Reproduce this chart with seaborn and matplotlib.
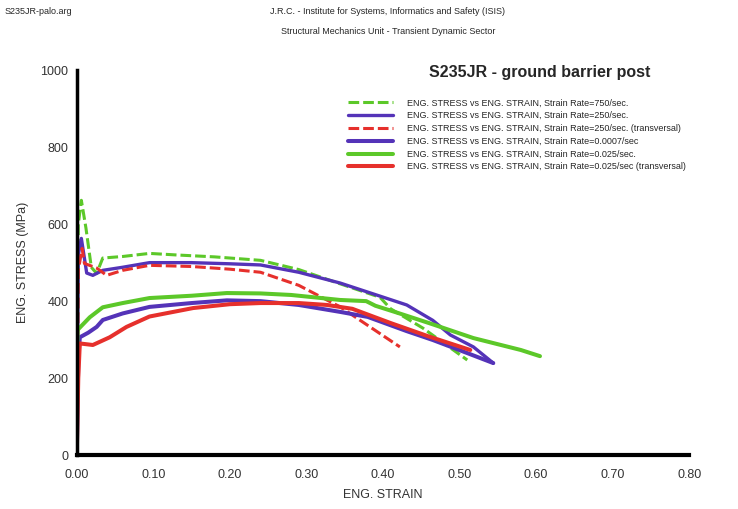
import numpy as np
import pandas as pd
import seaborn as sns
import matplotlib.pyplot as plt
from matplotlib.ticker import MultipleLocator, FormatStrFormatter

# series
strain_750 = [0, 0.002, 0.006, 0.012, 0.019, 0.026, 0.034, 0.06, 0.095, 0.13, 0.18, 0.24, 0.29, 0.344, 0.396, 0.41, 0.452, 0.48, 0.51]
stress_750 = [0, 600, 662, 590, 488, 472, 512, 516, 524, 520, 515, 506, 482, 445, 410, 380, 330, 290, 247]

strain_250 = [0, 0.002, 0.006, 0.013, 0.021, 0.034, 0.06, 0.095, 0.15, 0.2, 0.24, 0.29, 0.344, 0.396, 0.431, 0.465, 0.488, 0.518, 0.544]
stress_250 = [0, 520, 563, 473, 467, 480, 488, 500, 500, 497, 494, 475, 447, 413, 390, 350, 312, 281, 239]

strain_250t = [0, 0.002, 0.007, 0.01, 0.018, 0.026, 0.039, 0.06, 0.095, 0.15, 0.2, 0.24, 0.29, 0.344, 0.38, 0.422]
stress_250t = [0, 480, 537, 498, 492, 486, 467, 480, 493, 490, 483, 475, 441, 385, 337, 281]

strain_0007 = [0, 0.002, 0.004, 0.015, 0.026, 0.034, 0.06, 0.095, 0.15, 0.196, 0.24, 0.29, 0.344, 0.38, 0.431, 0.465, 0.51, 0.544]
stress_0007 = [0, 250, 306, 318, 333, 351, 368, 385, 395, 402, 400, 390, 372, 359, 322, 299, 265, 239]

strain_0025 = [0, 0.001, 0.017, 0.034, 0.06, 0.095, 0.15, 0.196, 0.24, 0.28, 0.344, 0.378, 0.39, 0.42, 0.46, 0.518, 0.58, 0.605]
stress_0025 = [0, 325, 358, 384, 395, 408, 414, 421, 420, 416, 403, 400, 388, 369, 343, 304, 273, 257]

strain_0025t = [0, 0.002, 0.004, 0.021, 0.043, 0.065, 0.095, 0.152, 0.2, 0.24, 0.29, 0.327, 0.36, 0.41, 0.46, 0.514]
stress_0025t = [0, 200, 290, 286, 306, 333, 360, 382, 392, 395, 395, 390, 380, 343, 308, 273]

labels = ["ENG. STRESS vs ENG. STRAIN, Strain Rate=750/sec.",
          "ENG. STRESS vs ENG. STRAIN, Strain Rate=250/sec.",
          "ENG. STRESS vs ENG. STRAIN, Strain Rate=250/sec. (transversal)",
          "ENG. STRESS vs ENG. STRAIN, Strain Rate=0.0007/sec",
          "ENG. STRESS vs ENG. STRAIN, Strain Rate=0.025/sec.",
          "ENG. STRESS vs ENG. STRAIN, Strain Rate=0.025/sec (transversal)"]

green = "#5cc829"
blue = "#5433b8"
red = "#e6302c"

series = [
    (strain_750, stress_750, green, 2.2, (0, (3.5, 1.3))),
    (strain_250, stress_250, blue, 2.4, "-"),
    (strain_250t, stress_250t, red, 2.2, (0, (3.5, 1.3))),
    (strain_0007, stress_0007, blue, 2.9, "-"),
    (strain_0025, stress_0025, green, 2.9, "-"),
    (strain_0025t, stress_0025t, red, 2.9, "-"),
]

sns.set_style("white")
plt.rcParams['font.family'] = ['Liberation Sans', 'DejaVu Sans']

fig = plt.figure(figsize=(7.38, 5.09), dpi=100)
ax = fig.add_axes([0.104, 0.106, 0.830, 0.756])

for (x, y, c, lw, ls), lab in zip(series, labels):
    df = pd.DataFrame({"strain": x, "stress": y})
    sns.lineplot(data=df, x="strain", y="stress", ax=ax, color=c, linewidth=lw,
                 linestyle=ls, sort=False, estimator=None, label=lab,
                 solid_capstyle="round", solid_joinstyle="round")

ax.set_xlim(0, 0.8)
ax.set_ylim(0, 1000)
ax.xaxis.set_major_locator(MultipleLocator(0.1))
ax.xaxis.set_minor_locator(MultipleLocator(0.05))
ax.yaxis.set_major_locator(MultipleLocator(200))
ax.xaxis.set_major_formatter(FormatStrFormatter("%.2f"))
ax.tick_params(axis="both", which="both", direction="in", labelsize=9, colors="black",
               labelcolor="#333333")
ax.tick_params(which="major", length=5, width=1.2)
ax.tick_params(which="minor", length=3, width=1)
ax.tick_params(axis="x", pad=10)
ax.tick_params(axis="y", pad=6)

for side in ["top", "right"]:
    ax.spines[side].set_visible(False)
ax.spines["left"].set_linewidth(2.5)
ax.spines["bottom"].set_linewidth(3)
ax.spines["left"].set_color("black")
ax.spines["bottom"].set_color("black")

ax.set_xlabel("ENG. STRAIN", fontsize=9, labelpad=6, color="#333333")
ax.set_ylabel("ENG. STRESS (MPa)", fontsize=9, labelpad=8, color="#333333")

leg = ax.legend(loc="upper left", bbox_to_anchor=(343 / 738, 1 - 94 / 509),
                bbox_transform=fig.transFigure, frameon=False, fontsize=6.5,
                handlelength=5.0, handletextpad=1.6, labelspacing=0.42, borderpad=0)

fig.text(540 / 738, 1 - 72 / 509, "S235JR - ground barrier post", ha="center",
         va="center", fontsize=11.5, fontweight="bold")
fig.text(5 / 738, 1 - 12 / 509, "S235JR-palo.arg", ha="left", va="center", fontsize=6.5)
fig.text(388 / 738, 1 - 12 / 509, "J.R.C. - Institute for Systems, Informatics and Safety (ISIS)",
         ha="center", va="center", fontsize=6.5)
fig.text(388 / 738, 1 - 31 / 509, "Structural Mechanics Unit - Transient Dynamic Sector",
         ha="center", va="center", fontsize=6.5)

fig.savefig("out.png", dpi=100, facecolor="white")
